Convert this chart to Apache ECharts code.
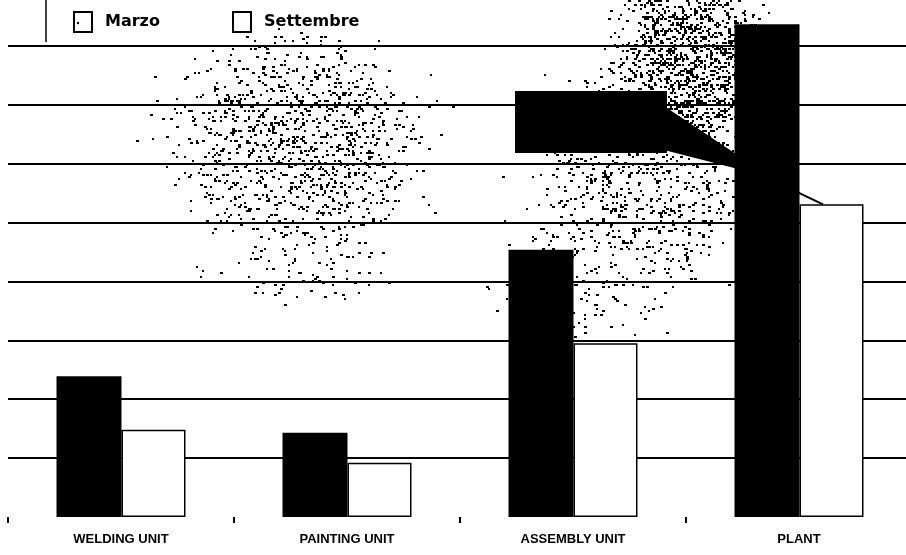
<!DOCTYPE html>
<html>
<head>
<meta charset="utf-8">
<script src="https://cdn.jsdelivr.net/npm/echarts@6/dist/echarts.min.js"></script>
<style>
  html, body { margin: 0; padding: 0; background: #fff; }
  #wrap { position: relative; width: 906px; height: 555px; overflow: hidden; }
  #grain { position: absolute; left: 0; top: 0; width: 906px; height: 555px; }
  /* plot runs slightly past the right edge of the page */
  #chart { position: absolute; left: 0; top: 0; width: 912px; height: 555px; }
</style>
</head>
<body>
<div id="wrap">
  <canvas id="grain" width="906" height="555"></canvas>
  <div id="chart"></div>
</div>
<script>
// Units per area, two survey months
const categories = ['WELDING UNIT', 'PAINTING UNIT', 'ASSEMBLY UNIT', 'PLANT'];
const seriesNames = ['Marzo', 'Settembre'];
const marzo = [2.39, 1.43, 4.54, 8.37];
const settembre = [1.48, 0.92, 2.95, 5.31];
const axisMax = 8.78;

// Print-style stipple shading behind the plot
(function drawGrain() {
  const c = document.getElementById('grain').getContext('2d');
  // soft-edged patches: centre, half-size, dot density
  const blobs = [
    { cx: 295, cy: 140, sx: 125, sy: 100, peak: 0.15 },
    { cx: 300, cy: 265, sx: 90, sy: 35, peak: 0.05 },
    { cx: 690, cy: 60, sx: 75, sy: 95, peak: 0.32 },
    { cx: 640, cy: 170, sx: 95, sy: 110, peak: 0.13 },
    { cx: 580, cy: 280, sx: 90, sy: 80, peak: 0.05 }
  ];
  function hash(x, y) {
    let h = (x * 374761393 + y * 668265263) | 0;
    h = (h ^ (h >>> 13)) * 1274126177 | 0;
    h = h ^ (h >>> 16);
    return (h >>> 0) / 4294967296;
  }
  c.fillStyle = '#000';
  for (let y = 0; y < 380; y += 2) {
    for (let x = 120; x < 800; x += 2) {
      let d = 0;
      for (const b of blobs) {
        const dx = (x - b.cx) / b.sx, dy = (y - b.cy) / b.sy;
        const r2 = dx * dx + dy * dy;
        d = Math.max(d, b.peak * Math.exp(-r2 * r2 * 1.5));
      }
      if (hash(x, y) < d) {
        const w = hash(y, x) < 0.5 ? 2 : 3;
        c.fillRect(x, y, w, 2);
      }
    }
  }
})();

const chart = echarts.init(document.getElementById('chart'), null, { renderer: 'canvas' });

const legendText = {
  fontFamily: 'DejaVu Sans', fontWeight: 'bold', fontSize: 16, color: '#000',
  padding: [0, 0, 0, 8]
};
const legendIcon = { color: '#fff', borderColor: '#000', borderWidth: 2 };

chart.setOption({
  animation: false,
  backgroundColor: 'transparent',
  grid: { left: 8, top: 0, right: 0, bottom: 38, containLabel: false },
  legend: [
    {
      left: 73, top: 11, padding: 0, itemWidth: 18, itemHeight: 20, itemGap: 8,
      data: [{ name: seriesNames[0], icon: 'rect', itemStyle: legendIcon }],
      textStyle: legendText
    },
    {
      left: 232, top: 11, padding: 0, itemWidth: 18, itemHeight: 20, itemGap: 8,
      data: [{ name: seriesNames[1], icon: 'rect', itemStyle: legendIcon }],
      textStyle: legendText
    }
  ],
  xAxis: {
    type: 'category',
    data: categories,
    boundaryGap: true,
    axisLine: { show: false },
    axisTick: { show: true, length: 6, lineStyle: { color: '#000', width: 2 } },
    axisLabel: {
      margin: 16,
      color: '#000',
      fontFamily: "'Liberation Sans', Arial, sans-serif",
      fontSize: 13,
      fontWeight: 'bold'
    }
  },
  yAxis: {
    type: 'value',
    min: 0,
    max: axisMax,
    interval: 1,
    axisLine: { show: false },
    axisTick: { show: false },
    axisLabel: { show: false },
    splitLine: {
      show: true,
      showMinLine: false,
      showMaxLine: false,
      lineStyle: { color: '#000', width: 2 }
    }
  },
  series: [
    {
      name: seriesNames[0],
      type: 'bar',
      data: marzo,
      barWidth: 65,
      barGap: '0%',
      itemStyle: { color: '#000' },
      z: 3
    },
    {
      name: seriesNames[1],
      type: 'bar',
      data: settembre,
      barWidth: 64,
      itemStyle: { color: '#fff', borderColor: '#000', borderWidth: 1.5 },
      z: 3
    }
  ]
});

// Callout box with a tail pointing at the September plant bar
const tip = chart.convertToPixel({ xAxisIndex: 0, yAxisIndex: 0 }, [3, settembre[3]]);
const tipX = tip[0] + 24, tipY = tip[1];
chart.setOption({
  graphic: [
    {
      type: 'line', z: 1,
      shape: { x1: 46, y1: 0, x2: 46, y2: 42 },
      style: { stroke: '#000', lineWidth: 1.5 }
    },
    {
      type: 'rect', z: 2,
      shape: { x: 515, y: 91, width: 152, height: 62 },
      style: { fill: '#000' }
    },
    {
      type: 'polygon', z: 1,
      shape: { points: [[664, 106], [742, 158], [742, 170], [664, 150]] },
      style: { fill: '#000' }
    },
    {
      type: 'line', z: 1,
      shape: { x1: 738, y1: 164, x2: tipX, y2: tipY },
      style: { stroke: '#000', lineWidth: 2 }
    },
    {
      type: 'circle', z: 5,
      shape: { cx: 78, cy: 23, r: 1.2 },
      style: { fill: '#000' }
    }
  ]
});
</script>
</body>
</html>
